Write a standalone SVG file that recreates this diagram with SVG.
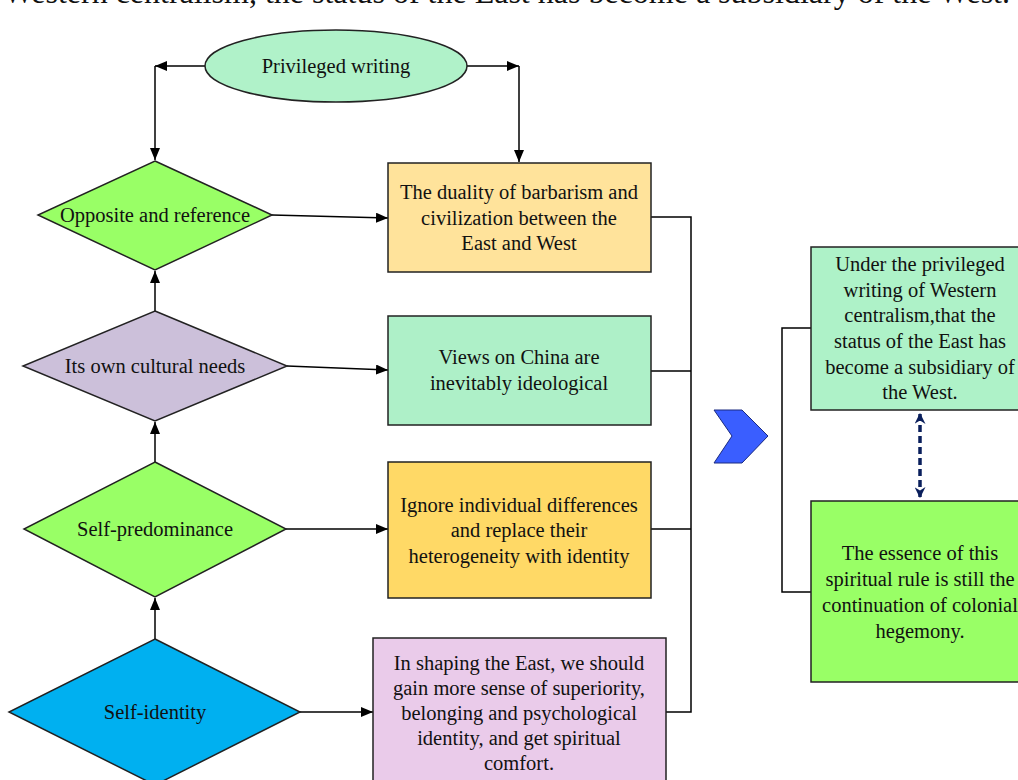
<svg xmlns="http://www.w3.org/2000/svg" width="1018" height="780" viewBox="0 0 1018 780">
<defs>
<marker id="ah" viewBox="0 0 12 10" refX="12" refY="5" markerWidth="12" markerHeight="10" markerUnits="userSpaceOnUse" orient="auto">
<path d="M0,0 L12,5 L0,10 Z" fill="#000"/>
</marker>
<marker id="dh" viewBox="0 0 10 10" refX="9" refY="5" markerWidth="11" markerHeight="11" markerUnits="userSpaceOnUse" orient="auto-start-reverse">
<path d="M0,0 L10,5 L0,10 L3,5 Z" fill="#0A1F5C"/>
</marker>
<style>
.t{font-family:"Liberation Serif","Times New Roman",serif;font-size:20.5px;fill:#111;text-anchor:middle}
.s{stroke:#222;stroke-width:1.5}
.c{fill:none;stroke:#000;stroke-width:1.5}
.a{marker-end:url(#ah)}
</style>
</defs>
<rect width="1018" height="780" fill="#fff"/>
<text x="1010" y="3" style="font-family:'Liberation Serif','Times New Roman',serif;font-size:32px;fill:#111;text-anchor:end">Western centralism, the status of the East has become a subsidiary of the West.</text>

<g id="connectors">
<path class="c a" d="M205,66 H155"/>
<path class="c a" d="M155,66 V160"/>
<path class="c a" d="M467,66 H519"/>
<path class="c a" d="M519,66 V162"/>
<path class="c a" d="M272,215 L388,218"/>
<path class="c a" d="M287,366 L388,370"/>
<path class="c a" d="M286,529 H388"/>
<path class="c a" d="M300,712 H373"/>
<path class="c a" d="M155,311 V271"/>
<path class="c a" d="M155,462 V422"/>
<path class="c a" d="M155,639 V598"/>
<path class="c" d="M651,217 H691 V712 H666 M651,371 H691 M651,529 H691"/>
<path class="c" d="M811,328 H782 V592 H811"/>
<path d="M920,414 V497" fill="none" stroke="#0A1F5C" stroke-width="3.5" stroke-dasharray="7,4" marker-start="url(#dh)" marker-end="url(#dh)"/>
</g>

<g id="privileged">
<ellipse cx="336" cy="66" rx="131" ry="36" fill="#B0F2C9" class="s"/>
<text class="t" x="336" y="73">Privileged writing</text>
</g>

<g id="opposite">
<polygon points="155,161 272,215 155,270 38,215" fill="#99FF66" class="s"/>
<text class="t" x="155" y="222">Opposite and reference</text>
</g>

<g id="cultural">
<polygon points="155,311 287,366 155,421 23,366" fill="#CCC0DA" class="s"/>
<text class="t" x="155" y="373">Its own cultural needs</text>
</g>

<g id="predominance">
<polygon points="155,462 286,529 155,597 24,529" fill="#99FF66" class="s"/>
<text class="t" x="155" y="536">Self-predominance</text>
</g>

<g id="identity">
<polygon points="155,639 300,712 155,785 9,712" fill="#00B0F0" class="s"/>
<text class="t" x="155" y="719">Self-identity</text>
</g>

<g id="duality">
<rect x="388" y="163" width="263" height="109" fill="#FFE39B" class="s"/>
<text class="t" x="519" y="199">The duality of barbarism and</text>
<text class="t" x="519" y="225">civilization between the</text>
<text class="t" x="519" y="250">East and West</text>
</g>

<g id="views">
<rect x="388" y="316" width="263" height="109" fill="#AEF0C8" class="s"/>
<text class="t" x="519" y="364">Views on China are</text>
<text class="t" x="519" y="390">inevitably ideological</text>
</g>

<g id="ignore">
<rect x="388" y="462" width="263" height="136" fill="#FFD966" class="s"/>
<text class="t" x="519" y="512">Ignore individual differences</text>
<text class="t" x="519" y="537">and replace their</text>
<text class="t" x="519" y="563">heterogeneity with identity</text>
</g>

<g id="shaping">
<rect x="373" y="638" width="293" height="160" fill="#EACBEA" class="s"/>
<text class="t" x="519" y="670">In shaping the East, we should</text>
<text class="t" x="519" y="695">gain more sense of superiority,</text>
<text class="t" x="519" y="720">belonging and psychological</text>
<text class="t" x="519" y="745">identity, and get spiritual</text>
<text class="t" x="519" y="770">comfort.</text>
</g>

<g id="chevron">
<polygon points="714,410 742,410 768,436 742,463 714,463 732,436" fill="#3A5EFF" stroke="#1a2a80" stroke-width="1"/>
</g>

<g id="subsidiary">
<rect x="811" y="247" width="210" height="163" fill="#AEF2C8" class="s"/>
<text class="t" x="920" y="271">Under the privileged</text>
<text class="t" x="920" y="297">writing of Western</text>
<text class="t" x="920" y="322">centralism,that the</text>
<text class="t" x="920" y="348">status of the East has</text>
<text class="t" x="920" y="374">become a subsidiary of</text>
<text class="t" x="920" y="399">the West.</text>
</g>

<g id="essence">
<rect x="811" y="501" width="210" height="181" fill="#99FF66" class="s"/>
<text class="t" x="920" y="560">The essence of this</text>
<text class="t" x="920" y="586">spiritual rule is still the</text>
<text class="t" x="920" y="612">continuation of colonial</text>
<text class="t" x="920" y="638">hegemony.</text>
</g>
</svg>
